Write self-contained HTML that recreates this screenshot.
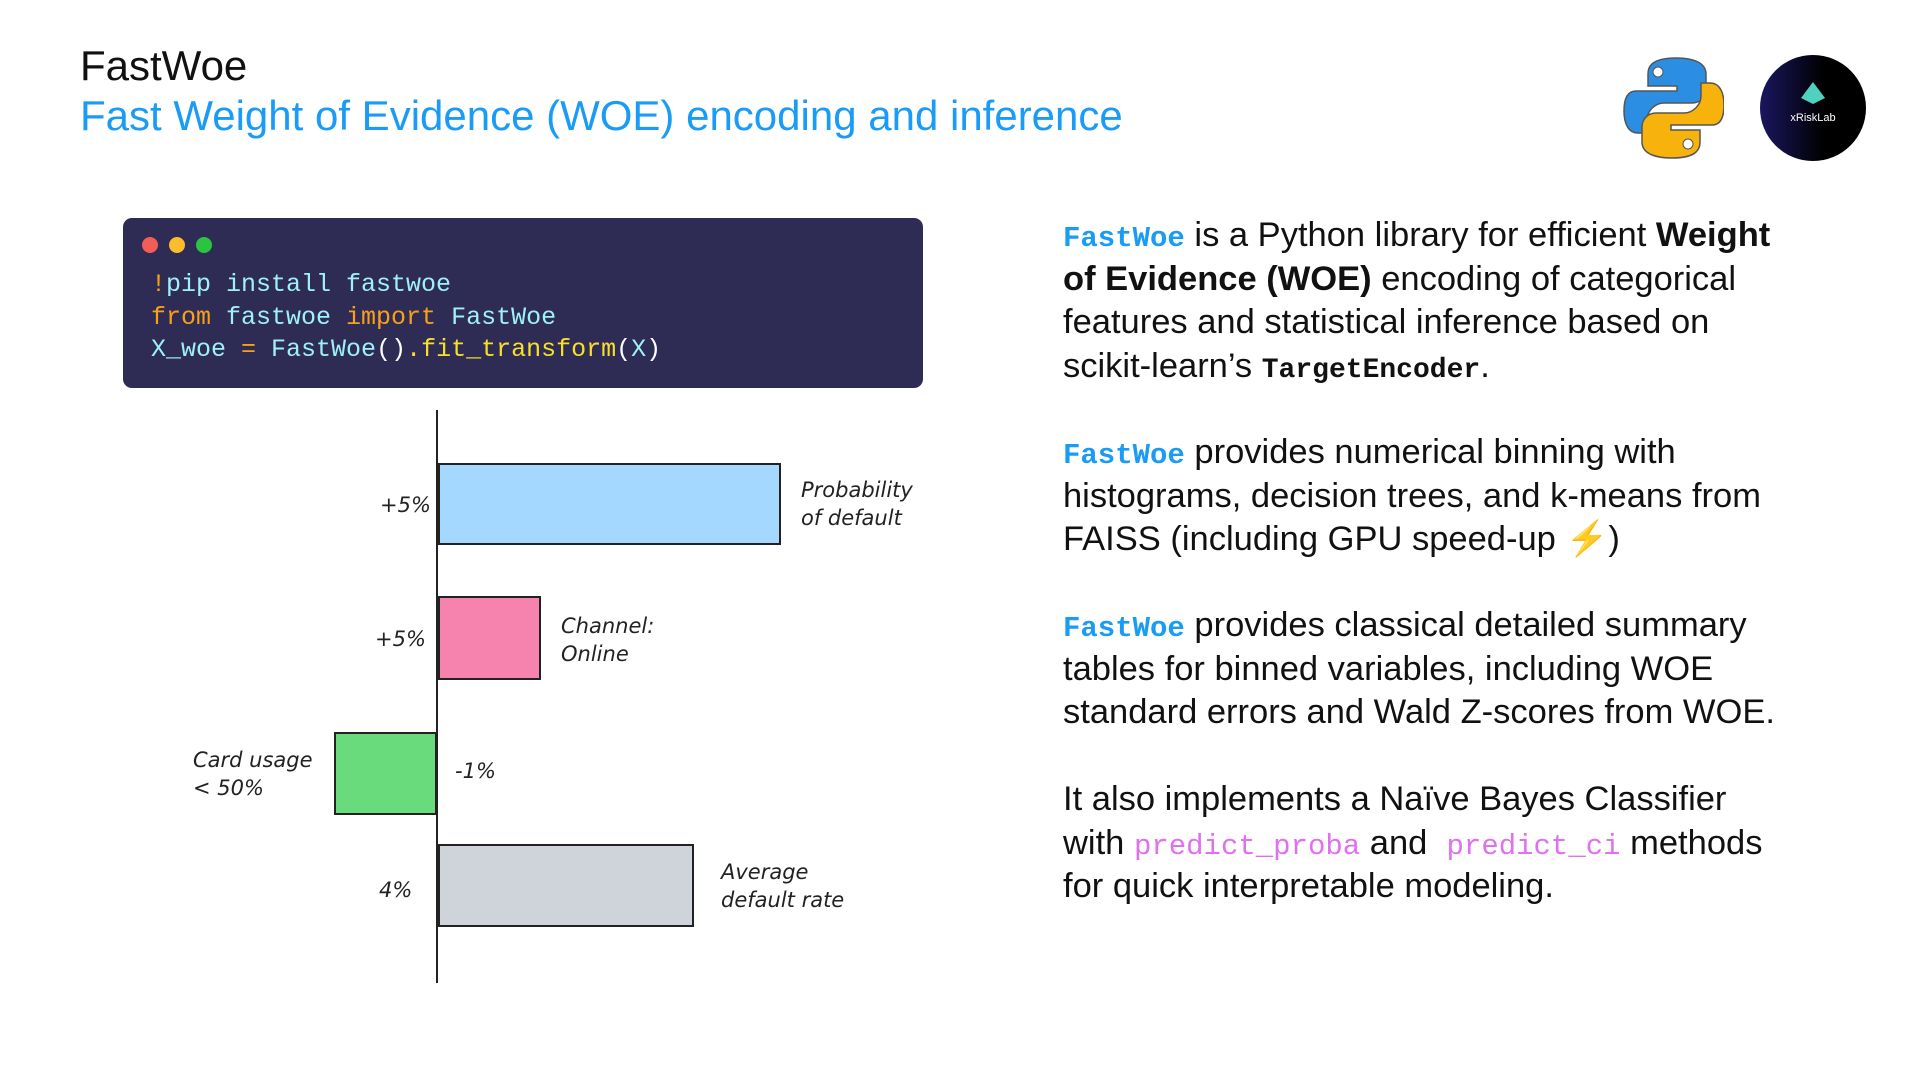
<!DOCTYPE html>
<html><head><meta charset="utf-8"><style>
body{margin:0;width:1920px;height:1080px;background:#fff;position:relative;overflow:hidden;font-family:"Liberation Sans",sans-serif}
.a{position:absolute;white-space:nowrap}
.t1{left:80px;top:42px;font-size:42px;color:#111}
.t2{left:80px;top:92px;font-size:42px;color:#1a9bf5}
.code{left:123px;top:218px;width:804px;height:170px;background:#2e2b55;border-radius:9px}
.mono{font-family:"Liberation Mono","DejaVu Sans Mono",monospace}
.cl{font-size:25px;color:#9ff1f5;left:151px}
.o{color:#f9a018}.y{color:#f8e02a}.w{color:#fff}
.p{left:1063px;font-size:34.5px;line-height:43.5px;color:#111}
.p span{line-height:10px}
.p .k{font-family:"Liberation Mono",monospace;color:#1a9bf5;font-weight:bold;font-size:29px}
.p .m{font-family:"Liberation Mono",monospace;color:#e070f0;font-size:29px}
.p .b{font-family:"Liberation Mono",monospace;font-weight:bold;font-size:28px}
.h{font-family:"DejaVu Sans",sans-serif;font-style:italic;font-size:21px;color:#222;line-height:28px}
</style></head><body>
<div class="a t1">FastWoe</div>
<div class="a t2">Fast Weight of Evidence (WOE) encoding and inference</div>

<svg class="a" style="left:1622px;top:56px" width="102" height="104" viewBox="0 0 102 104">
<path d="M50 2c-26 0-28 10-28 16v12h29v5H10C0 35-2 46-2 55c0 12 4 22 14 22h9V64c0-9 8-17 17-17h28c8 0 14-6 14-14V18C80 8 70 2 50 2z" fill="#2b8ee3" stroke="#555" stroke-width="1.5" transform="translate(4,0)"/>
<path d="M54 102c26 0 28-10 28-16V74H53v-5h41c10 0 12-11 12-20 0-12-4-22-14-22h-9v13c0 9-8 17-17 17H38c-8 0-14 6-14 14v15c0 10 10 16 30 16z" fill="#f8b20c" stroke="#555" stroke-width="1.5" transform="translate(-4,0)"/>
<circle cx="36" cy="16" r="5" fill="#fff" stroke="#555"/><circle cx="66" cy="88" r="5" fill="#fff" stroke="#555"/>
</svg>
<svg class="a" style="left:1759px;top:54px" width="108" height="108">
<defs><linearGradient id="g" x1="0" x2="1"><stop offset="0" stop-color="#1a1660"/><stop offset=".6" stop-color="#000"/></linearGradient></defs>
<circle cx="54" cy="54" r="53" fill="url(#g)"/>
<polygon points="54,28 66,44 54,50 42,44" fill="#4fd1c0"/>
<text x="54" y="67" fill="#fff" font-size="11" text-anchor="middle" font-family="Liberation Sans">xRiskLab</text>
</svg>

<div class="a code" style="width:800px"></div>
<svg class="a" style="left:140px;top:236px" width="80" height="18"><circle cx="10" cy="9" r="8" fill="#f25d57"/><circle cx="37" cy="9" r="8" fill="#fbbd2e"/><circle cx="64" cy="9" r="8" fill="#2bc441"/></svg>
<div class="a mono cl" style="top:270px"><span class="o">!</span>pip install fastwoe</div>
<div class="a mono cl" style="top:303px"><span class="o">from</span> fastwoe <span class="o">import</span> FastWoe</div>
<div class="a mono cl" style="top:335px">X_woe <span class="o">=</span> FastWoe<span class="w">()</span><span class="y">.fit_transform</span><span class="w">(</span>X<span class="w">)</span></div>

<svg class="a" style="left:-2px;top:-2px" width="1000" height="1080">
<line x1="439" y1="412" x2="439" y2="985" stroke="#222" stroke-width="2"/>
<rect x="441" y="466" width="341" height="80" fill="#a5d8ff" stroke="#222" stroke-width="2"/>
<rect x="441" y="599" width="101" height="82" fill="#f683ad" stroke="#222" stroke-width="2"/>
<rect x="337" y="735" width="101" height="81" fill="#69db7c" stroke="#222" stroke-width="2"/>
<rect x="441" y="847" width="254" height="81" fill="#ced4da" stroke="#222" stroke-width="2"/>
</svg>
<div class="a h" style="left:380px;top:491px">+5%</div>
<div class="a h" style="left:375px;top:625px">+5%</div>
<div class="a h" style="left:455px;top:757px">-1%</div>
<div class="a h" style="left:379px;top:876px">4%</div>
<div class="a h" style="left:801px;top:476px">Probability<br>of default</div>
<div class="a h" style="left:561px;top:612px">Channel:<br>Online</div>
<div class="a h" style="left:193px;top:746px">Card usage<br>&lt; 50%</div>
<div class="a h" style="left:721px;top:858px">Average<br>default rate</div>

<div class="a p" style="top:214px"><span class="k">FastWoe</span> is a Python library for efficient <b>Weight</b><br><b>of Evidence (WOE)</b> encoding of categorical<br>features and statistical inference based on<br>scikit-learn’s <span class="b">TargetEncoder</span>.</div>
<div class="a p" style="top:431px"><span class="k">FastWoe</span> provides numerical binning with<br>histograms, decision trees, and k-means from<br>FAISS (including GPU speed-up <span style="color:#f8c020">⚡</span>)</div>
<div class="a p" style="top:604px"><span class="k">FastWoe</span> provides classical detailed summary<br>tables for binned variables, including WOE<br>standard errors and Wald Z-scores from WOE.</div>
<div class="a p" style="top:778px">It also implements a Naïve Bayes Classifier<br>with <span class="m">predict_proba</span> and &nbsp;<span class="m">predict_ci</span> methods<br>for quick interpretable modeling.</div>
</body></html>
